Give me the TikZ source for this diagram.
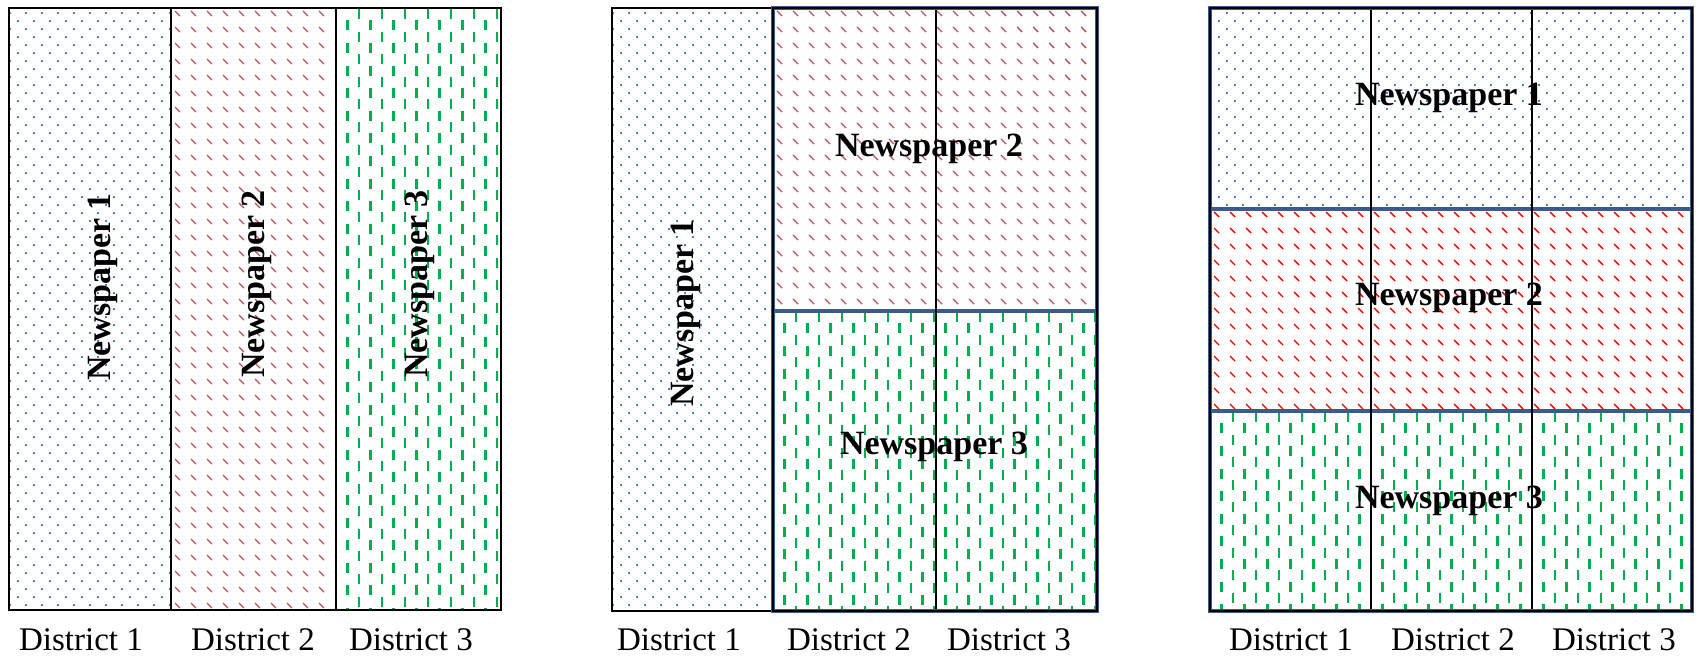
\documentclass[tikz,border=0pt]{standalone}
\usepackage{fontspec}
\setmainfont{Liberation Serif}
\definecolor{dotblue}{HTML}{4F81BD}
\definecolor{dred}{HTML}{C0504D}
\definecolor{bred}{HTML}{FF0000}
\definecolor{pgreen}{HTML}{00B050}
\definecolor{navyline}{HTML}{3B5B8C}
\tikzset{
  bluedot/.style={fill=dotblue},
  reddash/.style={draw=#1,line width=1.4pt},
  greendash/.style={draw=pgreen,line width=2.4pt},
  thinborder/.style={draw=black,line width=1.8pt},
  haloborder/.style={draw=navyline,line width=4.5pt},
  innerborder/.style={draw=black,line width=2.2pt},
  sepline/.style={draw=navyline,line width=4.5pt},
  district/.style={font=\fontsize{33}{36}\selectfont,inner sep=0pt,anchor=base},
  paper/.style={font=\bfseries\fontsize{34}{38}\selectfont,inner sep=0pt}
}
\newcommand\dotsarea[4]{%
 \begin{scope}
 \clip (#1,#2) rectangle (#3,#4);
 \pgfmathtruncatemacro\nx{(#3-#1)/16+1}
 \pgfmathtruncatemacro\ny{(#4-#2)/8+1}
 \foreach \j in {0,...,\ny}{
   \foreach \i in {0,...,\nx}{
     \fill[bluedot] ({#1+\i*16+mod(\j,2)*8},{#2+\j*8+4}) rectangle ++(2.2,2.2);
 }}
 \end{scope}}
\newcommand\redarea[5]{%
 \begin{scope}
 \clip (#1,#2) rectangle (#3,#4);
 \pgfmathtruncatemacro\nx{(#3-#1)/16+1}
 \pgfmathtruncatemacro\ny{(#4-#2)/16+1}
 \foreach \j in {0,...,\ny}{
   \foreach \i in {0,...,\nx}{
     \draw[reddash=#5] ({#1+\i*16+4},{#2+\j*16+3}) -- ++(5,5);
 }}
 \end{scope}}
\newcommand\greenarea[4]{%
 \begin{scope}
 \clip (#1,#2) rectangle (#3,#4);
 \pgfmathtruncatemacro\nx{(#3-#1)/23+1}
 \pgfmathtruncatemacro\ny{(#4-#2)/11.3+1}
 \foreach \j in {0,...,\ny}{
   \foreach \i in {0,...,\nx}{
     \draw[greendash] ({#1+\i*23+mod(\j,2)*11.5},{#2+\j*11.3+1}) -- ++(0,10);
 }}
 \end{scope}}
\begin{document}
\begin{tikzpicture}[x=1pt,y=-1pt]
\useasboundingbox[fill=white] (0,0) rectangle (1700,659);
% ---------- Panel 1
\dotsarea{9}{8}{171}{610}
\redarea{171}{8}{336}{610}{dred}
\greenarea{336}{8}{501}{610}
\draw[thinborder] (9,8) rectangle (501,610);
\draw[thinborder] (171,8) -- (171,610);
\draw[thinborder] (336,8) -- (336,610);
\node[paper,rotate=90] (p1n1) at (103,287) {Newspaper 1};
\node[paper,rotate=90] (p1n2) at (257,284) {Newspaper 2};
\node[paper,rotate=90] (p1n3) at (420,284) {Newspaper 3};
\node[district] (p1d1) at (81,650) {District 1};
\node[district] (p1d2) at (253,650) {District 2};
\node[district] (p1d3) at (411,650) {District 3};
% ---------- Panel 2
\dotsarea{612}{8}{773}{611}
\redarea{773}{8}{1097}{311}{dred}
\greenarea{773}{311}{1097}{611}
\draw[thinborder] (612,8) rectangle (773,611);
\draw[sepline] (773,311) -- (1097,311);
\draw[thinborder] (936,8) -- (936,611);
\draw[haloborder] (773,8) rectangle (1097,611);
\draw[innerborder] (773,8) rectangle (1097,611);
\node[paper,rotate=90] (p2n1) at (686,313) {Newspaper 1};
\node[paper] (p2n2) at (929,149) {Newspaper 2};
\node[paper] (p2n3) at (934,447) {Newspaper 3};
\node[district] (p2d1) at (679,650) {District 1};
\node[district] (p2d2) at (849,650) {District 2};
\node[district] (p2d3) at (1009,650) {District 3};
% ---------- Panel 3
\dotsarea{1210}{8}{1692}{209}
\redarea{1210}{209}{1692}{411}{bred}
\greenarea{1210}{411}{1692}{611}
\draw[sepline] (1210,209) -- (1692,209);
\draw[sepline] (1210,411) -- (1692,411);
\draw[thinborder] (1371,8) -- (1371,611);
\draw[thinborder] (1532,8) -- (1532,611);
\draw[haloborder] (1210,8) rectangle (1692,611);
\draw[innerborder] (1210,8) rectangle (1692,611);
\node[paper] (p3n1) at (1449,98) {Newspaper 1};
\node[paper] (p3n2) at (1449,298) {Newspaper 2};
\node[paper] (p3n3) at (1449,501) {Newspaper 3};
\node[district] (p3d1) at (1291,650) {District 1};
\node[district] (p3d2) at (1453,650) {District 2};
\node[district] (p3d3) at (1614,650) {District 3};
\end{tikzpicture}
\end{document}
